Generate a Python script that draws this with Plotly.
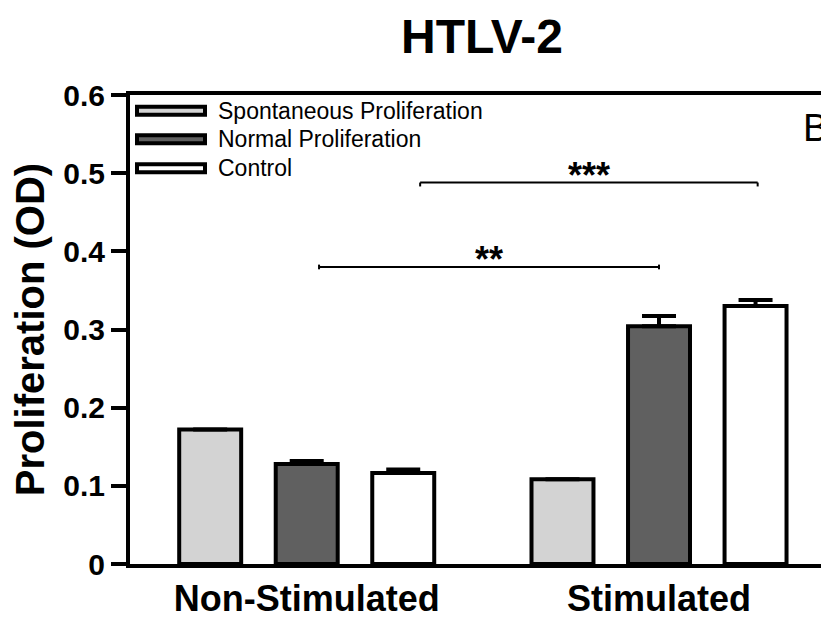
import plotly.graph_objects as go

# ---- data ----
groups = ["Non-Stimulated", "Stimulated"]
series_names = ["Spontaneous Proliferation", "Normal Proliferation", "Control"]
spontaneous = [0.172, 0.1085]
normal = [0.128, 0.304]
control = [0.1164, 0.330]
spontaneous_err = [0.0, 0.0]
normal_err = [0.0037, 0.0134]
control_err = [0.0045, 0.0077]
y_ticks = [0, 0.1, 0.2, 0.3, 0.4, 0.5, 0.6]
y_tick_labels = ["0", "0.1", "0.2", "0.3", "0.4", "0.5", "0.6"]

# significance brackets (x in category units, y in data units)
sig_labels = ["**", "***"]
sig_x0 = [0.035, 0.322]
sig_x1 = [1.0, 1.28]
sig_y = [0.380, 0.488]

colors = ["#d3d3d3", "#606060", "#ffffff"]
values = [spontaneous, normal, control]
errors = [spontaneous_err, normal_err, control_err]

# the page body has an 8px margin, so the figure is made 8px smaller
OFF = 8
W, H = 829 - OFF, 618 - OFF
L, R, T = 130 - OFF, 0, 95 - OFF
B = H - (564 - OFF)
PW, PH = W - L - R, H - T - B

def px_x(px):  # window pixel -> paper x
    return (px - OFF - L) / PW

def px_y(py):  # window pixel -> paper y
    return (H - B - (py - OFF)) / PH

FONT = "Liberation Sans, Arial, sans-serif"

fig = go.Figure()
for name, vals, errs, col in zip(series_names, values, errors, colors):
    fig.add_trace(go.Bar(
        x=groups, y=vals, name=name,
        marker=dict(color=col, line=dict(color="black", width=4)),
        error_y=dict(type="data", array=errs, arrayminus=[0] * len(errs),
                     symmetric=False, thickness=4, width=17, color="black",
                     visible=True),
        showlegend=False,
    ))

shapes = []
annotations = []

# custom legend (wide swatches like the original)
row_y = [110.7, 139.3, 168.3]
for name, col, ry in zip(series_names, colors, row_y):
    shapes.append(dict(type="rect", xref="paper", yref="paper",
                       x0=px_x(137), x1=px_x(205), y0=px_y(ry + 4), y1=px_y(ry - 4),
                       line=dict(color="black", width=4), fillcolor=col, layer="above"))
    annotations.append(dict(xref="paper", yref="paper", x=px_x(216), y=px_y(ry),
                            xanchor="left", yanchor="middle", showarrow=False,
                            text=name, font=dict(family=FONT, size=23, color="black")))

# significance brackets
for lab, x0, x1, y in zip(sig_labels, sig_x0, sig_x1, sig_y):
    shapes.append(dict(type="line", xref="x", yref="y", x0=x0, x1=x1, y0=y, y1=y,
                       line=dict(color="black", width=2)))
    tick = 0.005 if lab == "***" else 0.003
    top = 0.0 if lab == "***" else 0.003
    for xx in (x0, x1):
        shapes.append(dict(type="line", xref="x", yref="y", x0=xx, x1=xx,
                           y0=y - tick, y1=y + top, line=dict(color="black", width=2)))
    annotations.append(dict(xref="x", yref="y", x=(x0 + x1) / 2, y=y,
                            xanchor="center", yanchor="middle", yshift=7,
                            showarrow=False, text=lab,
                            font=dict(family=FONT, size=36, color="black", weight="bold")))

# panel letter
annotations.append(dict(xref="paper", yref="paper", x=px_x(815), y=px_y(128),
                        xanchor="center", yanchor="middle", showarrow=False, text="B",
                        font=dict(family=FONT, size=38, color="black")))

fig.update_layout(
    width=W, height=H,
    margin=dict(l=L, r=R, t=T, b=B, pad=0, autoexpand=False),
    paper_bgcolor="white", plot_bgcolor="white",
    barmode="group", bargap=0.178, bargroupgap=0.358,
    title=dict(text="HTLV-2", x=(482 - OFF) / W, xanchor="center",
               y=1 - (36 - OFF) / H, yanchor="middle",
               font=dict(family=FONT, size=48, color="black", weight="bold")),
    shapes=shapes, annotations=annotations,
    xaxis=dict(type="category", range=[-0.5016, 1.4825], showline=True, linewidth=4,
               linecolor="black", mirror=True, ticks="",
               showgrid=False, zeroline=False, automargin=False,
               tickfont=dict(family=FONT, size=36, color="black", weight="bold")),
    yaxis=dict(range=[0, 0.6], tickvals=y_ticks, ticktext=y_tick_labels,
               showline=True, linewidth=4, linecolor="black", ticks="outside",
               ticklen=15, tickwidth=4, tickcolor="black", showgrid=False, zeroline=False,
               automargin=False,
               tickfont=dict(family=FONT, size=30, color="black", weight="bold"),
               title=dict(text="Proliferation (OD)", standoff=12,
                          font=dict(family=FONT, size=40, color="black", weight="bold"))),
)

fig.write_html("out.html")
